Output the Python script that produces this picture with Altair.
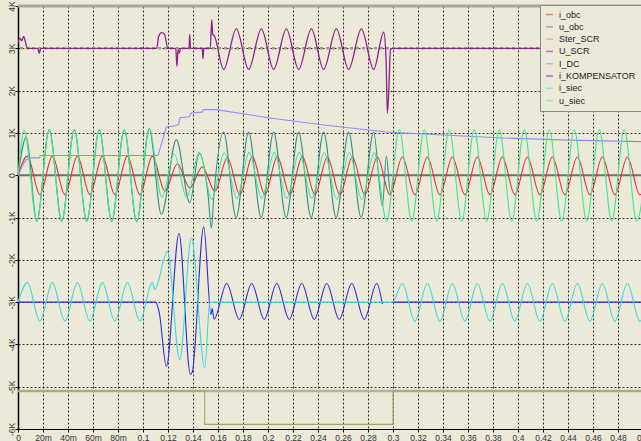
import altair as alt
import pandas as pd

# Channel names, legend order and trace colours
NAMES = ["i_obc", "u_obc", "Ster_SCR", "U_SCR", "I_DC", "i_KOMPENSATOR", "i_siec", "u_siec"]
COLORS = ["#EE2A2A", "#2E8F8F", "#A4A462", "#8E1F8E", "#8C8CFF", "#2B2BDA", "#35DEDE", "#3CE890"]

X_TICKS = [0, 0.02, 0.04, 0.06, 0.08, 0.1, 0.12, 0.14, 0.16, 0.18, 0.2, 0.22, 0.24,
           0.26, 0.28, 0.3, 0.32, 0.34, 0.36, 0.38, 0.4, 0.42, 0.44, 0.46, 0.48]
Y_TICKS = [-6, -5, -4, -3, -2, -1, 0, 1, 2, 3, 4]

# Each trace: sample times (s) and values (thousands), turning points of the waveforms
U_SIEC_T = [0, 0.005, 0.015, 0.025, 0.035, 0.045, 0.055, 0.065, 0.075, 0.085, 0.095, 0.105,
            0.115, 0.125, 0.135, 0.145, 0.155, 0.165, 0.175, 0.185, 0.195, 0.205, 0.215,
            0.225, 0.235, 0.245, 0.255, 0.265, 0.275, 0.285, 0.295, 0.305, 0.315, 0.325,
            0.335, 0.345, 0.355, 0.365, 0.375, 0.385, 0.395, 0.405, 0.415, 0.425, 0.435,
            0.445, 0.455, 0.465, 0.475, 0.485, 0.495, 0.505]
U_SIEC_V = [0, 1.06, -1.09, 1.08, -1.09, 1.08, -1.09, 1.08, -1.09, 1.08, -1.10, 1.10,
            -0.52, 0.50, -0.53, 0.55, -0.57, 0.53, -0.55, 0.54, -0.55, 0.54, -0.55,
            0.54, -0.55, 0.53, -0.56, 0.53, -0.57, 0.53, -1.09, 1.08, -1.09, 1.08,
            -1.09, 1.08, -1.09, 1.08, -1.09, 1.08, -1.09, 1.08, -1.09, 1.08, -1.09,
            1.08, -1.09, 1.08, -1.09, 1.08, -1.09, 1.08]

I_OBC_T = [0, 0.0075, 0.0175, 0.0275, 0.0375, 0.0475, 0.0575, 0.0675, 0.0775, 0.0875, 0.0975,
           0.1075, 0.1175, 0.1275, 0.1375, 0.1475, 0.1575, 0.1675, 0.1775, 0.1875, 0.1975,
           0.2075, 0.2175, 0.2275, 0.2375, 0.2475, 0.2575, 0.2675, 0.2775, 0.2875, 0.2975,
           0.3075, 0.3175, 0.3275, 0.3375, 0.3475, 0.3575, 0.3675, 0.3775, 0.3875, 0.3975,
           0.4075, 0.4175, 0.4275, 0.4375, 0.4475, 0.4575, 0.4675, 0.4775, 0.4875, 0.4975,
           0.5075]
I_OBC_V = [0, 0.45, -0.46, 0.45, -0.46, 0.45, -0.46, 0.45, -0.46, 0.45, -0.46,
           0.45, -0.38, 0.27, -0.30, 0.20, -0.38, 0.42, -0.46, 0.44, -0.46,
           0.44, -0.46, 0.44, -0.46, 0.43, -0.46, 0.43, -0.46, 0.43, -0.46,
           0.43, -0.46, 0.43, -0.46, 0.43, -0.46, 0.43, -0.46, 0.43, -0.46,
           0.43, -0.46, 0.43, -0.46, 0.43, -0.46, 0.43, -0.46, 0.43, -0.46,
           0.43]

U_OBC_T = [0, 0.0067, 0.015, 0.025, 0.035, 0.045, 0.055, 0.065, 0.075, 0.085, 0.095, 0.105,
           0.1147, 0.1267, 0.1374, 0.145, 0.152, 0.1547, 0.1565, 0.1645, 0.1745, 0.1845,
           0.1945, 0.2045, 0.2145, 0.2245, 0.2345, 0.2445, 0.2545, 0.2645, 0.2745, 0.2845,
           0.2915, 0.2947, 0.2979, 0.3005]
U_OBC_V = [0, 0.90, -1.09, 1.08, -1.09, 1.08, -1.09, 1.08, -1.09, 1.08, -1.10, 1.10,
           -0.93, 0.84, -0.65, 0.52, -0.45, -1.25, -0.55, 1.02, -1.0, 1.02,
           -1.0, 1.02, -1.0, 1.02, -1.0, 1.02, -1.0, 1.02, -1.0, 1.02,
           -0.73, 0.45, -0.42, 0.0]

STER_T = [0, 0.1494, 0.1494, 0.3, 0.3, 0.505]
STER_V = [-5.1, -5.1, -5.89, -5.89, -5.1, -5.1]

U_SCR_T = [0, 0.0015, 0.003, 0.0045, 0.0062, 0.0075, 0.0158, 0.0170, 0.0182, 0.1110, 0.1125,
           0.1150, 0.1172, 0.1200, 0.1262, 0.1272, 0.1280, 0.1290, 0.1300, 0.1368, 0.1374,
           0.1380, 0.1474, 0.1480, 0.1487, 0.1538, 0.1550, 0.1558, 0.1570, 0.1645, 0.1747,
           0.1845, 0.1947, 0.2045, 0.2147, 0.2245, 0.2347, 0.2445, 0.2547, 0.2645, 0.2747,
           0.2845, 0.2926, 0.2945, 0.2955, 0.2965, 0.2980, 0.3000, 0.5050]
U_SCR_V = [3.12, 3.24, 3.18, 3.28, 3.12, 3.0, 3.0, 2.88, 3.0, 3.0, 3.28,
           3.37, 3.33, 3.0, 3.0, 2.57, 2.97, 2.88, 3.0, 3.0, 3.33,
           3.0, 3.0, 2.75, 3.0, 3.0, 3.68, 3.33, 3.30, 2.50, 3.46,
           2.50, 3.46, 2.50, 3.46, 2.50, 3.46, 2.50, 3.46, 2.50, 3.46,
           2.50, 3.38, 2.70, 1.47, 1.90, 2.97, 3.0, 3.0]

I_DC_T = [0, 0.004, 0.0067, 0.0094, 0.0172, 0.0178, 0.1120, 0.1187, 0.1260, 0.1285, 0.1295,
          0.1370, 0.1385, 0.1470, 0.1482, 0.1585, 0.2000, 0.2414, 0.2947, 0.3400, 0.3880,
          0.4400, 0.5050]
I_DC_V = [0, 0.25, 0.37, 0.41, 0.41, 0.465, 0.465, 1.14, 1.17, 1.20, 1.36,
          1.38, 1.47, 1.49, 1.55, 1.55, 1.36, 1.20, 1.02, 0.95, 0.88,
          0.83, 0.79]

I_KOMP_T = [0, 0.1102, 0.1130, 0.1187, 0.1288, 0.1379, 0.1394, 0.1486, 0.1544, 0.1554, 0.1568,
            0.167, 0.177, 0.187, 0.197, 0.207, 0.217, 0.227, 0.237, 0.247, 0.257, 0.267,
            0.277, 0.287, 0.2915]
I_KOMP_V = [-3.0, -3.0, -3.25, -4.52, -1.38, -4.71, -4.66, -1.22, -3.30, -3.15, -3.40,
            -2.56, -3.41, -2.56, -3.41, -2.56, -3.41, -2.56, -3.41, -2.56, -3.41, -2.56,
            -3.41, -2.56, -3.05]
I_KOMP2_T = [0.2995, 0.505]
I_KOMP2_V = [-3.0, -3.0]

I_SIEC_T = [0, 0.0075, 0.0175, 0.0275, 0.0375, 0.0475, 0.0575, 0.0675, 0.0775, 0.0875, 0.0975,
            0.1075, 0.1094, 0.1195, 0.1294, 0.1387, 0.1494, 0.1534, 0.1560, 0.2995, 0.3075,
            0.3175, 0.3275, 0.3375, 0.3475, 0.3575, 0.3675, 0.3775, 0.3875, 0.3975, 0.4075,
            0.4175, 0.4275, 0.4375, 0.4475, 0.4575, 0.4675, 0.4775, 0.4875, 0.4975, 0.5075]
I_SIEC_V = [-3.0, -2.54, -3.45, -2.54, -3.45, -2.54, -3.45, -2.54, -3.45, -2.54, -3.45,
            -2.53, -2.70, -1.80, -4.36, -1.48, -4.55, -3.02, -3.0, -3.0, -2.56,
            -3.45, -2.56, -3.45, -2.56, -3.45, -2.56, -3.45, -2.56, -3.45, -2.56,
            -3.45, -2.56, -3.45, -2.56, -3.45, -2.56, -3.45, -2.56, -3.45, -2.56]

SERIES = {
    "i_obc": [(I_OBC_T, I_OBC_V)],
    "u_obc": [(U_OBC_T, U_OBC_V)],
    "Ster_SCR": [(STER_T, STER_V)],
    "U_SCR": [(U_SCR_T, U_SCR_V)],
    "I_DC": [(I_DC_T, I_DC_V)],
    "i_KOMPENSATOR": [(I_KOMP_T, I_KOMP_V), (I_KOMP2_T, I_KOMP2_V)],
    "i_siec": [(I_SIEC_T, I_SIEC_V)],
    "u_siec": [(U_SIEC_T, U_SIEC_V)],
}
LINEAR = {"Ster_SCR", "I_DC"}

rows = []
for name, segments in SERIES.items():
    for k, (ts, vs) in enumerate(segments):
        for i, (t, v) in enumerate(zip(ts, vs)):
            rows.append({"s": name, "seg": k, "i": i, "t": t, "v": v})
df = pd.DataFrame(rows)

BG = "#ECE9D8"
FONT = "Liberation Sans"

x_enc = alt.X(
    "t:Q",
    scale=alt.Scale(domain=[0, 0.4984], nice=False, zero=False),
    axis=alt.Axis(
        values=X_TICKS, title=None,
        labelExpr="datum.value == 0 ? '0' : (datum.value < 0.095 ? format(datum.value * 1000, '.0f') + 'm' : format(datum.value, '.2~f'))",
        grid=True, gridColor="#000000", gridDash=[2, 2], gridOpacity=0.8, gridWidth=1,
        domainColor="#000000", domainWidth=1, tickColor="#000000", tickSize=3,
        labelFont=FONT, labelFontSize=8.5, labelColor="#333333", labelPadding=1,
        labelFlush=False, labelOverlap=False, labelSeparation=0,
    ),
)
y_enc = alt.Y(
    "v:Q",
    scale=alt.Scale(domain=[-6, 4], nice=False, zero=False),
    axis=alt.Axis(
        values=Y_TICKS, title=None,
        labelExpr="datum.value == 0 ? '0' : datum.value + 'K'",
        labelAngle=270, labelAlign="center", labelBaseline="middle",
        grid=True, gridColor="#000000", gridDash=[2, 2], gridOpacity=0.8, gridWidth=1,
        domainColor="#000000", domainWidth=1.5, tickColor="#000000", tickSize=3,
        labelFont=FONT, labelFontSize=8.5, labelColor="#333333", labelPadding=3.5,
        labelFlush=False, labelOverlap=False,
    ),
)

color_enc = alt.Color(
    "s:N",
    scale=alt.Scale(domain=NAMES, range=COLORS),
    legend=alt.Legend(
        title=None, orient="none", legendX=522, legendY=-1, direction="vertical",
        symbolType="stroke", symbolSize=49, symbolStrokeWidth=1.5, symbolOpacity=0.55,
        labelFont=FONT, labelFontSize=9, labelColor="#222222", labelOffset=5,
        rowPadding=2.3, padding=5, fillColor=BG, strokeColor="#8A8A8A", labelLimit=200,
    ),
)

# Channel reference lines
zero_line = alt.Chart(pd.DataFrame({"v": [0]})).mark_rule(
    color="#707070", strokeWidth=2).encode(y=y_enc)
scr_line = alt.Chart(pd.DataFrame({"v": [3]})).mark_rule(
    color="#A09C8C", strokeWidth=2.5, strokeDash=[3, 3]).encode(y=y_enc)
ster_line = alt.Chart(pd.DataFrame({"v": [-5.1]})).mark_rule(
    color="#B4B094", strokeWidth=2.5).encode(y=y_enc)
top_line = alt.Chart(pd.DataFrame({"v": [4]})).mark_rule(
    color="#A6A49C", strokeWidth=3).encode(y=y_enc)

layers = [zero_line, scr_line, ster_line, top_line]
for name in NAMES:
    layers.append(
        alt.Chart(df)
        .transform_filter(alt.datum.s == name)
        .mark_line(
            interpolate="linear" if name in LINEAR else "monotone",
            strokeWidth=1.3 if name == "U_SCR" else 1.1,
            clip=True,
        )
        .encode(x=x_enc, y=y_enc, color=color_enc, detail="seg:N", order="i:Q")
    )

# Last time label sits at the right edge of the window
edge_label = alt.Chart(pd.DataFrame({"t": [0.5], "v": [-6], "lab": ["0.5"]})).mark_text(
    baseline="top", dy=4.5, font=FONT, fontSize=8.5, color="#333333"
).encode(x=x_enc, y=y_enc, text="lab:N")
layers.append(edge_label)

chart = (
    alt.layer(*layers)
    .properties(
        width=623, height=423,
        autosize=alt.AutoSizeParams(type="none"),
        padding={"left": 18, "top": 6, "right": 0, "bottom": 12},
        background=BG,
    )
    .configure_view(strokeWidth=0, fill=BG)
    .configure_axis(labelOverlap=False)
)

chart.save("out.html", embed_options={"renderer": "svg", "actions": False})
